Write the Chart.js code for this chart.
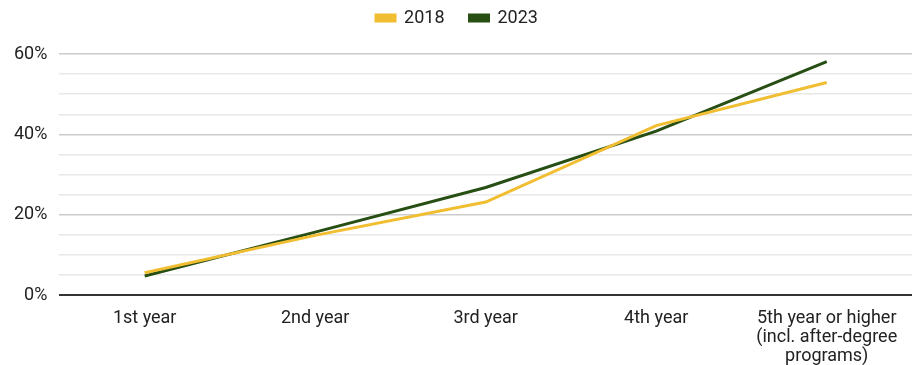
<!DOCTYPE html>
<html>
<head>
<meta charset="utf-8">
<script src="https://cdn.jsdelivr.net/npm/chart.js@4.4.0/dist/chart.umd.min.js"></script>
<style>
  html, body { margin: 0; padding: 0; background: #fff; }
  #wrap { width: 912px; height: 365px; }
</style>
</head>
<body>
<div id="wrap"><canvas id="chart"></canvas></div>
<script>
// ==== Data ====
const categories = [
    '1st year',
    '2nd year',
    '3rd year',
    '4th year',
    ['5th year or higher', '(incl. after-degree', 'programs)']
];
const series2018 = [5.6, 14.9, 23.2, 42.2, 52.9];
const series2023 = [4.8, 15.7, 26.8, 40.8, 58.1];
const yTickLabels = [0, 20, 40, 60];

const COLOR_2018 = '#F1BE32';
const COLOR_2023 = '#274E13';

Chart.defaults.font.family = 'Roboto, "Liberation Sans", Arial, sans-serif';
Chart.defaults.color = '#222';

// fixed legend height so the plot starts where the reference does
const legendGap = {
    id: 'legendGap',
    beforeInit(chart) {
        const fit = chart.legend.fit;
        chart.legend.fit = function () {
            fit.bind(chart.legend)();
            this.height = 70;
        };
    }
};

new Chart(document.getElementById('chart'), {
    type: 'line',
    data: {
        labels: categories,
        datasets: [
            { label: '2018', data: series2018, borderColor: COLOR_2018, backgroundColor: COLOR_2018, borderWidth: 3, pointRadius: 0, tension: 0 },
            { label: '2023', data: series2023, borderColor: COLOR_2023, backgroundColor: COLOR_2023, borderWidth: 3, pointRadius: 0, tension: 0 }
        ]
    },
    plugins: [legendGap],
    options: {
        responsive: true,
        maintainAspectRatio: false,
        animation: false,
        layout: { padding: { left: 2, right: 0, top: -16, bottom: -7 } },
        plugins: {
            legend: {
                position: 'top',
                labels: { boxWidth: 19, boxHeight: 6, padding: 25, font: { size: 18 } }
            },
            tooltip: { enabled: false }
        },
        scales: {
            x: {
                offset: true,
                grid: { display: false },
                border: { display: false },
                ticks: { font: { size: 18, lineHeight: 1.05 }, maxRotation: 0, padding: 6 }
            },
            y: {
                min: 0,
                max: 60,
                border: { display: false },
                grid: {
                    drawTicks: false,
                    lineWidth: ctx => ctx.tick && ctx.tick.value === 0 ? 2 : 1.5,
                    color: ctx => {
                        const v = ctx.tick ? ctx.tick.value : null;
                        if (v === 0) return '#333';
                        if (yTickLabels.includes(v)) return '#cccccc';
                        return '#e8e8e8';
                    }
                },
                ticks: {
                    stepSize: 5,
                    autoSkip: false,
                    padding: 12,
                    font: { size: 18 },
                    callback: v => yTickLabels.includes(v) ? v + '%' : ''
                }
            }
        }
    }
});
</script>
</body>
</html>
